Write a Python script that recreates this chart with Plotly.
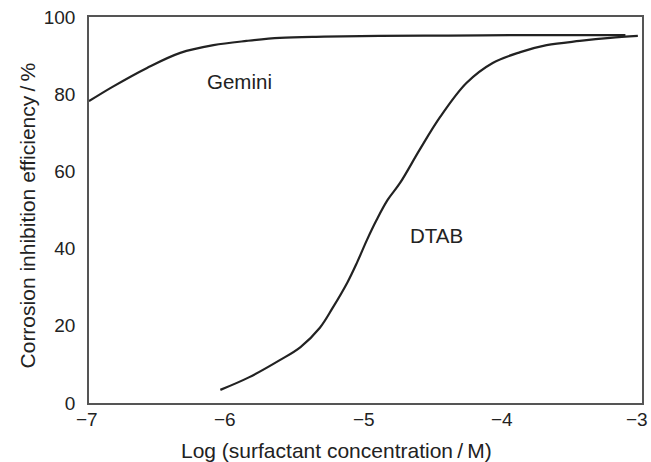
import plotly.graph_objects as go

gemini_x = [-7.0, -6.83, -6.58, -6.34, -6.10, -5.86, -5.62, -5.3, -4.9, -4.4, -3.9, -3.4, -3.12]
gemini_y = [78.2, 81.9, 86.8, 90.7, 92.7, 93.8, 94.6, 94.9, 95.1, 95.2, 95.3, 95.3, 95.3]

dtab_x = [-6.05, -5.84, -5.62, -5.47, -5.33, -5.24, -5.13, -5.06, -4.99, -4.92, -4.84, -4.75,
          -4.61, -4.46, -4.27, -4.08, -3.88, -3.69, -3.45, -3.23, -3.03]
dtab_y = [3.4, 6.7, 11.1, 14.5, 19.5, 24.5, 31.3, 36.5, 42.2, 47.4, 52.6, 57.0,
          65.5, 74.1, 82.9, 88.1, 90.9, 92.7, 93.8, 94.6, 95.1]

x_ticks = [-7, -6, -5, -4, -3]
x_tick_labels = ["\u22127", "\u22126", "\u22125", "\u22124", "\u22123"]
y_ticks = [0, 20, 40, 60, 80, 100]

FONT = "Liberation Sans, Arial, Helvetica"

fig = go.Figure()
line_style = dict(color="#222222", width=2.2, shape="spline", smoothing=1.0)
fig.add_trace(go.Scatter(x=gemini_x, y=gemini_y, mode="lines", line=line_style,
                         showlegend=False, cliponaxis=False))
fig.add_trace(go.Scatter(x=dtab_x, y=dtab_y, mode="lines", line=line_style,
                         showlegend=False, cliponaxis=False))

fig.add_annotation(x=-5.908, y=83.3, text="Gemini", showarrow=False,
                   font=dict(family=FONT, size=20.5, color="#222"))
fig.add_annotation(x=-4.483, y=43.3, text="DTAB", showarrow=False,
                   font=dict(family=FONT, size=20.5, color="#222"))

# x tick labels (as annotations so the last one stays inside the page)
for i, (tv, tt) in enumerate(zip(x_ticks, x_tick_labels)):
    last = i == len(x_ticks) - 1
    fig.add_annotation(x=tv, xref="x", y=-0.044, yref="paper", text=tt, showarrow=False,
                       xanchor="right" if last else "center", yanchor="middle",
                       xshift=8 if last else -2,
                       font=dict(family=FONT, size=19, color="#222"))

# axis titles
fig.add_annotation(xref="paper", yref="paper", x=0.4467, y=-0.124,
                   text="Log (surfactant concentration\u2009/\u2009M)", showarrow=False,
                   xanchor="center", yanchor="middle",
                   font=dict(family=FONT, size=21, color="#222"))
fig.add_annotation(xref="paper", yref="paper", x=-0.112, y=0.486,
                   text="Corrosion inhibition efficiency\u2009/\u2009%", showarrow=False,
                   textangle=-90, xanchor="center", yanchor="middle",
                   font=dict(family=FONT, size=21, color="#222"))

fig.update_layout(
    width=651, height=462,
    margin=dict(l=89, r=9, t=17, b=59),
    paper_bgcolor="white", plot_bgcolor="white",
    font=dict(family=FONT, size=19, color="#222"),
    xaxis=dict(range=[-7, -3], tickvals=x_ticks, showticklabels=False,
               showgrid=False, zeroline=False, showline=True, linecolor="#555",
               linewidth=1.5, mirror=True, ticks="", ticklen=0, automargin=False),
    yaxis=dict(range=[0, 100], tickvals=y_ticks,
               showgrid=False, zeroline=False, showline=True, linecolor="#555",
               linewidth=1.5, mirror=True, ticks="", ticklen=0, automargin=False,
               tickfont=dict(size=19), ticklabelstandoff=8, ticklabeloverflow="allow"),
)

fig.write_html("out.html", config={"displayModeBar": False},
               post_script="document.body.style.margin='0';document.body.style.overflow='hidden';")
